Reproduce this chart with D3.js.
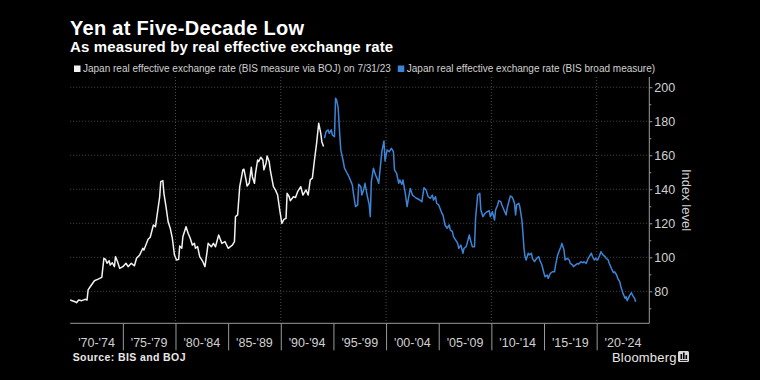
<!DOCTYPE html>
<html>
<head>
<meta charset="utf-8">
<script src="https://cdn.jsdelivr.net/npm/d3@7"></script>
<style>
  html, body { margin: 0; padding: 0; background: #000; }
  svg { display: block; }
  text { font-family: "Liberation Sans", Arial, sans-serif; }
</style>
</head>
<body>
<svg id="chart" width="760" height="380"></svg>
<script>
// ---------- DATA ----------
const titleText = "Yen at Five-Decade Low";
const subtitleText = "As measured by real effective exchange rate";
const legendLabels = [
  "Japan real effective exchange rate (BIS measure via BOJ) on 7/31/23",
  "Japan real effective exchange rate (BIS broad measure)"
];
const periodLabels = ["'70-'74","'75-'79","'80-'84","'85-'89","'90-'94","'95-'99","'00-'04","'05-'09","'10-'14","'15-'19","'20-'24"];
const periodStarts = [1970,1975,1980,1985,1990,1995,2000,2005,2010,2015,2020];
const yTicks = [80,100,120,140,160,180,200];
const yMinorTicks = [70,90,110,130,150,170,190];
const xGridYears = [1980,1990,2000,2010,2020];

// [decimal year, index level] — BIS measure via BOJ (white)
const bojSeries = [[1970.0,74.9],[1970.45,73.9],[1970.6,73.3],[1970.8,74.9],[1971.1,74.5],[1971.4,75.3],[1971.6,74.9],[1971.7,80.8],[1971.9,82.7],[1972.3,86.2],[1972.6,87.0],[1973.0,88.2],[1973.2,99.4],[1973.35,98.8],[1973.5,96.5],[1973.7,98.0],[1973.8,95.5],[1974.0,96.8],[1974.2,94.5],[1974.3,100.4],[1974.5,97.4],[1974.7,93.5],[1975.0,94.5],[1975.3,96.5],[1975.5,94.5],[1975.8,96.5],[1976.1,95.0],[1976.3,99.4],[1976.6,101.4],[1976.9,105.3],[1977.0,104.3],[1977.4,110.6],[1977.6,111.8],[1977.9,119.0],[1978.1,118.0],[1978.3,126.8],[1978.5,135.6],[1978.6,144.5],[1978.8,145.1],[1978.9,137.6],[1979.1,129.8],[1979.3,120.9],[1979.5,117.1],[1979.7,111.2],[1979.9,101.4],[1980.1,98.4],[1980.3,98.8],[1980.4,106.6],[1980.6,105.3],[1980.7,112.1],[1981.0,118.0],[1981.2,114.1],[1981.4,111.2],[1981.6,107.2],[1981.8,108.2],[1981.9,105.3],[1982.1,106.3],[1982.3,100.4],[1982.6,97.4],[1982.8,94.5],[1983.0,103.3],[1983.1,108.2],[1983.4,106.2],[1983.6,108.2],[1983.8,106.2],[1984.1,113.1],[1984.4,108.2],[1984.7,109.2],[1985.0,105.3],[1985.4,107.2],[1985.6,109.2],[1985.7,123.9],[1985.9,124.9],[1986.1,141.5],[1986.4,151.4],[1986.5,151.8],[1986.7,145.5],[1986.8,141.9],[1987.0,143.5],[1987.2,152.9],[1987.3,147.4],[1987.5,143.5],[1987.6,149.4],[1987.8,157.2],[1987.9,156.2],[1988.1,158.8],[1988.3,157.2],[1988.4,151.4],[1988.6,155.3],[1988.7,159.6],[1988.9,156.2],[1989.0,151.4],[1989.3,141.5],[1989.5,139.5],[1989.7,136.6],[1989.9,127.8],[1990.1,120.0],[1990.3,122.3],[1990.5,122.9],[1990.6,137.6],[1990.8,135.6],[1990.9,133.3],[1991.2,135.6],[1991.4,135.2],[1991.6,138.6],[1991.9,141.5],[1992.1,136.6],[1992.4,139.6],[1992.6,136.6],[1992.8,145.5],[1993.0,146.5],[1993.2,157.2],[1993.4,167.0],[1993.6,178.8],[1993.8,172.9],[1993.9,168.0],[1994.06,165.1]];

// [decimal year, index level] — BIS broad measure (blue)
const bisSeries = [[1994.15,170.0],[1994.3,173.9],[1994.5,174.9],[1994.6,172.9],[1994.8,174.9],[1994.9,171.9],[1995.1,170.9],[1995.2,193.5],[1995.3,192.5],[1995.45,188.0],[1995.6,172.0],[1995.7,163.0],[1995.9,157.5],[1996.05,152.4],[1996.3,149.4],[1996.4,148.4],[1996.6,145.5],[1996.8,142.5],[1996.9,137.6],[1997.1,129.8],[1997.3,130.8],[1997.4,142.9],[1997.6,141.5],[1997.7,136.6],[1997.9,140.5],[1998.0,143.5],[1998.2,136.6],[1998.4,130.8],[1998.5,123.9],[1998.6,144.5],[1998.8,152.4],[1999.0,148.4],[1999.2,145.5],[1999.3,143.5],[1999.6,162.1],[1999.8,168.4],[1999.9,156.6],[2000.1,163.1],[2000.3,162.1],[2000.5,164.1],[2000.7,162.1],[2000.8,151.4],[2001.0,149.4],[2001.2,143.5],[2001.3,145.5],[2001.5,142.9],[2001.6,145.5],[2001.8,138.6],[2002.0,129.8],[2002.1,133.7],[2002.3,140.5],[2002.5,136.6],[2002.7,135.6],[2002.9,134.7],[2003.2,133.7],[2003.4,132.7],[2003.6,140.9],[2003.8,139.5],[2004.0,135.6],[2004.2,134.7],[2004.4,136.6],[2004.5,133.7],[2004.7,135.6],[2004.8,131.8],[2005.0,130.8],[2005.3,125.9],[2005.4,124.9],[2005.6,119.0],[2005.8,117.1],[2006.0,119.0],[2006.1,116.1],[2006.3,115.1],[2006.4,112.1],[2006.6,110.2],[2006.8,108.2],[2006.9,105.3],[2007.1,107.2],[2007.3,102.4],[2007.4,105.3],[2007.6,106.2],[2007.7,108.2],[2007.9,113.1],[2008.1,108.2],[2008.2,106.2],[2008.4,106.2],[2008.5,122.9],[2008.7,136.6],[2008.9,137.6],[2009.0,127.8],[2009.2,123.9],[2009.4,125.9],[2009.6,126.8],[2009.8,127.4],[2009.9,123.9],[2010.1,126.8],[2010.3,121.9],[2010.4,127.8],[2010.6,130.8],[2010.7,133.3],[2010.9,132.7],[2011.0,130.8],[2011.2,127.8],[2011.4,124.9],[2011.5,128.8],[2011.7,133.7],[2011.8,136.1],[2012.0,135.2],[2012.2,131.8],[2012.3,124.9],[2012.4,130.8],[2012.6,131.8],[2012.7,129.8],[2012.9,121.9],[2013.0,114.1],[2013.1,105.3],[2013.2,100.4],[2013.3,98.4],[2013.5,102.4],[2013.6,101.4],[2013.8,102.4],[2013.9,99.4],[2014.1,97.4],[2014.3,99.4],[2014.5,100.4],[2014.6,98.4],[2014.8,95.5],[2015.0,90.6],[2015.1,88.6],[2015.3,89.6],[2015.4,87.6],[2015.6,90.6],[2015.8,91.5],[2016.0,91.5],[2016.1,95.5],[2016.3,101.4],[2016.6,106.2],[2016.7,108.2],[2016.9,104.3],[2017.0,98.4],[2017.2,99.4],[2017.4,98.4],[2017.5,96.4],[2017.7,95.5],[2017.8,94.5],[2018.0,95.5],[2018.2,96.4],[2018.3,96.0],[2018.5,97.4],[2018.7,96.8],[2018.8,97.4],[2019.0,96.4],[2019.2,99.4],[2019.3,100.4],[2019.5,102.4],[2019.6,100.4],[2019.8,98.4],[2019.9,99.4],[2020.1,98.4],[2020.3,101.4],[2020.4,103.3],[2020.6,101.4],[2020.8,100.4],[2020.9,99.4],[2021.1,98.4],[2021.2,96.4],[2021.4,93.5],[2021.6,91.0],[2021.7,91.5],[2021.9,89.6],[2022.0,87.6],[2022.2,85.6],[2022.3,82.7],[2022.5,78.8],[2022.7,75.9],[2022.8,76.8],[2022.9,74.5],[2023.1,77.2],[2023.3,79.2],[2023.4,77.8],[2023.6,75.9],[2023.7,73.9]];

// ---------- LAYOUT ----------
const svg = d3.select("#chart");
const plot = { left: 70.2, right: 649.3, top: 77, bottom: 323.3 };
const colors = { white: "#f2f2f2", blue: "#3d84d6", grid: "#4a4a4a", axis: "#9a9a9a", text: "#d0d0d0" };

const x = d3.scaleLinear().domain([1970, 2025]).range([plot.left, plot.right]);
const y = d3.scaleLinear().domain([61.2, 206]).range([plot.bottom, plot.top]);

svg.append("rect").attr("width", 760).attr("height", 380).attr("fill", "#000");

// Title / subtitle
svg.append("text").attr("x", 70).attr("y", 35).attr("fill", "#fff")
  .attr("font-size", 20).attr("font-weight", "bold").attr("letter-spacing", 0.3).text(titleText);
svg.append("text").attr("x", 70).attr("y", 51.7).attr("fill", "#fff")
  .attr("font-size", 15).attr("font-weight", "bold").attr("letter-spacing", 0.15).text(subtitleText);

// Legend
const legend = svg.append("g").attr("transform", "translate(74,0)");
const lg1 = legend.append("g");
lg1.append("rect").attr("x", 0).attr("y", 65.5).attr("width", 6.5).attr("height", 6.5).attr("fill", colors.white);
const lt1 = lg1.append("text").attr("x", 9).attr("y", 72).attr("fill", colors.text).attr("font-size", 10).text(legendLabels[0]);
const w1 = lt1.node().getComputedTextLength();
const lg2 = legend.append("g").attr("transform", `translate(${9 + w1 + 7},0)`);
lg2.append("rect").attr("x", 0).attr("y", 65.5).attr("width", 6.5).attr("height", 6.5).attr("fill", colors.blue);
lg2.append("text").attr("x", 9).attr("y", 72).attr("fill", colors.text).attr("font-size", 10).text(legendLabels[1]);

// Gridlines
const grid = svg.append("g");
grid.selectAll("line.h").data(yTicks).join("line").attr("class", "h")
  .attr("x1", plot.left).attr("x2", plot.right)
  .attr("y1", d => y(d)).attr("y2", d => y(d))
  .attr("stroke", colors.grid).attr("stroke-width", 1).attr("stroke-dasharray", "1,2");
grid.selectAll("line.v").data(xGridYears).join("line").attr("class", "v")
  .attr("x1", d => x(d)).attr("x2", d => x(d))
  .attr("y1", plot.top).attr("y2", plot.bottom)
  .attr("stroke", colors.grid).attr("stroke-width", 1).attr("stroke-dasharray", "1,2");

// Right axis
const yAxis = d3.axisRight(y).tickValues(yTicks).tickSize(3).tickPadding(2).tickFormat(d3.format("d"));
const yg = svg.append("g").attr("transform", `translate(${plot.right},0)`).call(yAxis);
yg.select(".domain").attr("stroke", colors.axis).attr("d", `M0,${plot.top}V${plot.bottom}`);
yg.selectAll(".tick line").attr("stroke", colors.axis);
yg.selectAll(".tick text").attr("fill", colors.text).attr("font-size", 12.5).attr("font-family", "Liberation Sans, Arial, sans-serif");
const yMinor = d3.axisRight(y).tickValues(yMinorTicks).tickSize(2).tickFormat("");
const ymg = svg.append("g").attr("transform", `translate(${plot.right},0)`).call(yMinor);
ymg.select(".domain").remove();
ymg.selectAll(".tick line").attr("stroke", colors.axis);

svg.append("text").attr("transform", `translate(682,200) rotate(90)`)
  .attr("text-anchor", "middle").attr("fill", colors.text).attr("font-size", 13).text("Index level");

// Bottom axis
const xAxis = d3.axisBottom(x).tickValues(periodStarts.slice(1)).tickSize(27).tickFormat("");
const xg = svg.append("g").attr("transform", `translate(0,${plot.bottom})`).call(xAxis);
xg.select(".domain").attr("stroke", colors.axis).attr("d", `M${plot.left},0H${plot.right}`);
xg.selectAll(".tick line").attr("stroke", colors.axis);

svg.append("g").selectAll("text").data(periodLabels).join("text")
  .attr("x", (d, i) => x(periodStarts[i] + 2.5)).attr("y", 347)
  .attr("text-anchor", "middle").attr("fill", colors.text).attr("font-size", 12.5).text(d => d);

// Lines
const line = d3.line().x(d => x(d[0])).y(d => y(d[1])).curve(d3.curveLinear);
svg.append("path").datum(bojSeries).attr("d", line).attr("fill", "none")
  .attr("stroke", colors.white).attr("stroke-width", 1.5).attr("stroke-linejoin", "round");
svg.append("path").datum(bisSeries).attr("d", line).attr("fill", "none")
  .attr("stroke", colors.blue).attr("stroke-width", 1.5).attr("stroke-linejoin", "round");

// Footer
svg.append("text").attr("x", 72.7).attr("y", 361).attr("fill", "#e8e8e8")
  .attr("font-size", 10.5).attr("font-weight", "bold").attr("letter-spacing", 0.4).text("Source: BIS and BOJ");
svg.append("text").attr("x", 612).attr("y", 362).attr("fill", "#e8e8e8")
  .attr("font-size", 13).attr("letter-spacing", 0.2).text("Bloomberg");
const logo = svg.append("g").attr("transform", "translate(678,351)");
logo.append("rect").attr("width", 11).attr("height", 11).attr("rx", 1.5).attr("fill", "#d8d8d8");
logo.append("rect").attr("x", 2.5).attr("y", 3).attr("width", 1.6).attr("height", 5).attr("fill", "#000");
logo.append("rect").attr("x", 5).attr("y", 1.5).attr("width", 1.6).attr("height", 6.5).attr("fill", "#000");
logo.append("rect").attr("x", 7.5).attr("y", 4).attr("width", 1.6).attr("height", 4).attr("fill", "#000");
logo.append("rect").attr("x", 2).attr("y", 9).attr("width", 7.5).attr("height", 0.8).attr("fill", "#000");
</script>
</body>
</html>
